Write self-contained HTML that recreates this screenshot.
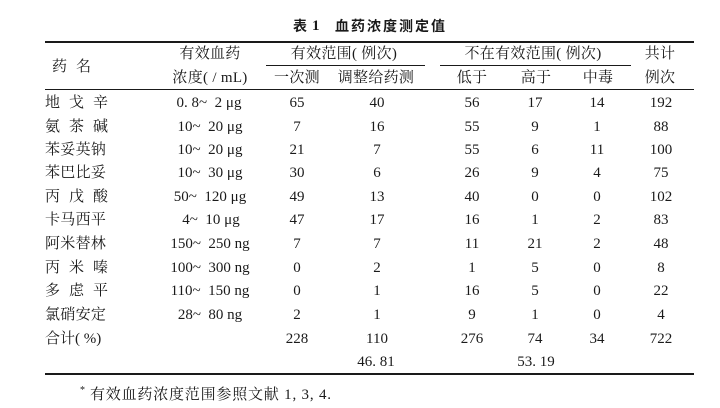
<!DOCTYPE html>
<html lang="zh-CN"><head><meta charset="utf-8">
<style>
html,body{margin:0;padding:0;background:#fff;}
body{width:720px;height:408px;position:relative;overflow:hidden;
font-family:"Liberation Serif","Noto Serif CJK SC","Noto Serif CJK JP","Noto Serif CJK TC","Noto Serif SC","Source Han Serif SC",serif;color:#1a1a1a;font-size:15px;}
.c{position:absolute;width:160px;margin-left:-80px;text-align:center;height:20px;line-height:20px;margin-top:-10px;white-space:nowrap;}
.l{position:absolute;height:20px;line-height:20px;margin-top:-10px;white-space:nowrap;}
.r{position:absolute;background:#1a1a1a;}
.t{position:absolute;font-family:"Liberation Sans","Noto Sans CJK SC",sans-serif;font-weight:bold;font-size:14px;height:20px;line-height:20px;top:16px;white-space:nowrap;}
.sp{letter-spacing:9px;}
.h{letter-spacing:0.3px;}
</style></head><body>
<div class="t" style="left:293px;">表</div>
<div class="t" style="left:312px;font-family:'Liberation Serif',serif;font-size:15px;">1</div>
<div class="t" style="left:335px;letter-spacing:2px;">血药浓度测定值</div>

<div class="r" style="left:45px;top:41px;width:649px;height:1.6px;"></div>
<div class="r" style="left:266px;top:65px;width:159px;height:1px;"></div>
<div class="r" style="left:440px;top:65px;width:191px;height:1px;"></div>
<div class="r" style="left:45px;top:88.5px;width:649px;height:1.3px;"></div>
<div class="r" style="left:45px;top:373px;width:649px;height:1.6px;"></div>

<div class="l sp" style="left:52px;top:67px;">药名</div>
<div class="c h" style="left:210px;top:54px;">有效血药</div>
<div class="c h" style="left:210px;top:78px;">浓度( / mL)</div>
<div class="c h" style="left:344px;top:54px;">有效范围( 例次)</div>
<div class="c h" style="left:533px;top:54px;">不在有效范围( 例次)</div>
<div class="c h" style="left:660px;top:54px;">共计</div>
<div class="c h" style="left:297px;top:78px;">一次测</div>
<div class="c h" style="left:376px;top:78px;">调整给药测</div>
<div class="c h" style="left:472px;top:78px;">低于</div>
<div class="c h" style="left:536px;top:78px;">高于</div>
<div class="c h" style="left:598px;top:78px;">中毒</div>
<div class="c h" style="left:660px;top:78px;">例次</div>

<!-- row 1 -->
<div class="l sp" style="left:45px;top:103px;">地戈辛</div>
<div class="c" style="left:209px;top:103px;">0. 8~&nbsp; 2 μg</div>
<div class="c" style="left:297px;top:103px;">65</div><div class="c" style="left:377px;top:103px;">40</div>
<div class="c" style="left:472px;top:103px;">56</div><div class="c" style="left:535px;top:103px;">17</div>
<div class="c" style="left:597px;top:103px;">14</div><div class="c" style="left:661px;top:103px;">192</div>
<!-- row 2 -->
<div class="l sp" style="left:45px;top:127px;">氨茶碱</div>
<div class="c" style="left:210px;top:127px;">10~&nbsp; 20 μg</div>
<div class="c" style="left:297px;top:127px;">7</div><div class="c" style="left:377px;top:127px;">16</div>
<div class="c" style="left:472px;top:127px;">55</div><div class="c" style="left:535px;top:127px;">9</div>
<div class="c" style="left:597px;top:127px;">1</div><div class="c" style="left:661px;top:127px;">88</div>
<!-- row 3 -->
<div class="l h" style="left:45px;top:150px;">苯妥英钠</div>
<div class="c" style="left:210px;top:150px;">10~&nbsp; 20 μg</div>
<div class="c" style="left:297px;top:150px;">21</div><div class="c" style="left:377px;top:150px;">7</div>
<div class="c" style="left:472px;top:150px;">55</div><div class="c" style="left:535px;top:150px;">6</div>
<div class="c" style="left:597px;top:150px;">11</div><div class="c" style="left:661px;top:150px;">100</div>
<!-- row 4 -->
<div class="l h" style="left:45px;top:173px;">苯巴比妥</div>
<div class="c" style="left:210px;top:173px;">10~&nbsp; 30 μg</div>
<div class="c" style="left:297px;top:173px;">30</div><div class="c" style="left:377px;top:173px;">6</div>
<div class="c" style="left:472px;top:173px;">26</div><div class="c" style="left:535px;top:173px;">9</div>
<div class="c" style="left:597px;top:173px;">4</div><div class="c" style="left:661px;top:173px;">75</div>
<!-- row 5 -->
<div class="l sp" style="left:45px;top:197px;">丙戊酸</div>
<div class="c" style="left:210px;top:197px;">50~&nbsp; 120 μg</div>
<div class="c" style="left:297px;top:197px;">49</div><div class="c" style="left:377px;top:197px;">13</div>
<div class="c" style="left:472px;top:197px;">40</div><div class="c" style="left:535px;top:197px;">0</div>
<div class="c" style="left:597px;top:197px;">0</div><div class="c" style="left:661px;top:197px;">102</div>
<!-- row 6 -->
<div class="l h" style="left:45px;top:220px;">卡马西平</div>
<div class="c" style="left:211px;top:220px;">4~&nbsp; 10 μg</div>
<div class="c" style="left:297px;top:220px;">47</div><div class="c" style="left:377px;top:220px;">17</div>
<div class="c" style="left:472px;top:220px;">16</div><div class="c" style="left:535px;top:220px;">1</div>
<div class="c" style="left:597px;top:220px;">2</div><div class="c" style="left:661px;top:220px;">83</div>
<!-- row 7 -->
<div class="l h" style="left:45px;top:244px;">阿米替林</div>
<div class="c" style="left:210px;top:244px;">150~&nbsp; 250 ng</div>
<div class="c" style="left:297px;top:244px;">7</div><div class="c" style="left:377px;top:244px;">7</div>
<div class="c" style="left:472px;top:244px;">11</div><div class="c" style="left:535px;top:244px;">21</div>
<div class="c" style="left:597px;top:244px;">2</div><div class="c" style="left:661px;top:244px;">48</div>
<!-- row 8 -->
<div class="l sp" style="left:45px;top:268px;">丙米嗪</div>
<div class="c" style="left:210px;top:268px;">100~&nbsp; 300 ng</div>
<div class="c" style="left:297px;top:268px;">0</div><div class="c" style="left:377px;top:268px;">2</div>
<div class="c" style="left:472px;top:268px;">1</div><div class="c" style="left:535px;top:268px;">5</div>
<div class="c" style="left:597px;top:268px;">0</div><div class="c" style="left:661px;top:268px;">8</div>
<!-- row 9 -->
<div class="l sp" style="left:45px;top:291px;">多虑平</div>
<div class="c" style="left:210px;top:291px;">110~&nbsp; 150 ng</div>
<div class="c" style="left:297px;top:291px;">0</div><div class="c" style="left:377px;top:291px;">1</div>
<div class="c" style="left:472px;top:291px;">16</div><div class="c" style="left:535px;top:291px;">5</div>
<div class="c" style="left:597px;top:291px;">0</div><div class="c" style="left:661px;top:291px;">22</div>
<!-- row 10 -->
<div class="l h" style="left:45px;top:315px;">氯硝安定</div>
<div class="c" style="left:210px;top:315px;">28~&nbsp; 80 ng</div>
<div class="c" style="left:297px;top:315px;">2</div><div class="c" style="left:377px;top:315px;">1</div>
<div class="c" style="left:472px;top:315px;">9</div><div class="c" style="left:535px;top:315px;">1</div>
<div class="c" style="left:597px;top:315px;">0</div><div class="c" style="left:661px;top:315px;">4</div>
<!-- total -->
<div class="l" style="left:45px;top:339px;">合计( %)</div>
<div class="c" style="left:297px;top:339px;">228</div><div class="c" style="left:377px;top:339px;">110</div>
<div class="c" style="left:472px;top:339px;">276</div><div class="c" style="left:535px;top:339px;">74</div>
<div class="c" style="left:597px;top:339px;">34</div><div class="c" style="left:661px;top:339px;">722</div>
<div class="c" style="left:376px;top:362px;">46. 81</div>
<div class="c" style="left:536px;top:362px;">53. 19</div>

<!-- footnote -->
<div class="l" style="left:80px;top:391px;font-size:10px;">*</div>
<div class="l" style="left:90px;top:395px;letter-spacing:0.8px;">有效血药浓度范围参照文献 1, 3, 4.</div>
</body></html>
